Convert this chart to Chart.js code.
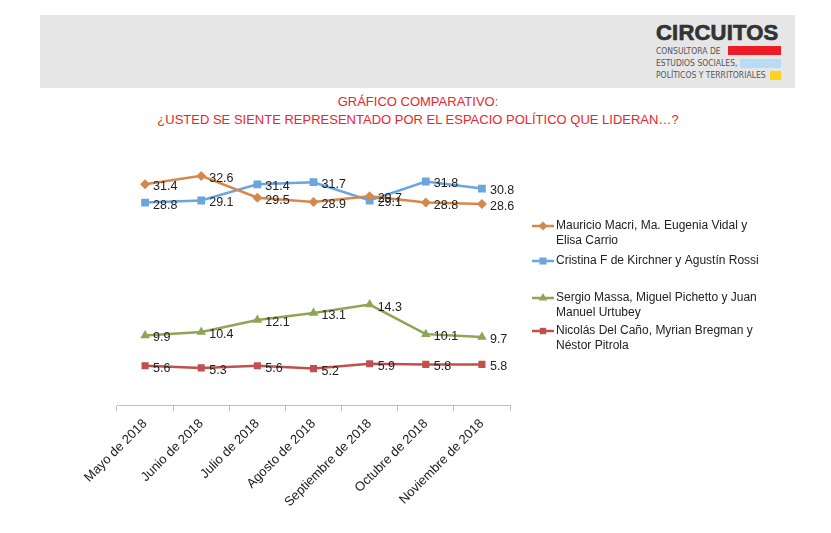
<!DOCTYPE html>
<html>
<head>
<meta charset="utf-8">
<script src="https://cdn.jsdelivr.net/npm/chart.js@4.4.1/dist/chart.umd.min.js"></script>
<style>
  body { margin: 0; background: #fff; font-family: "Liberation Sans", Arial, sans-serif; }
  #page { position: relative; width: 831px; height: 533px; overflow: hidden; }
  #band { position: absolute; left: 40px; top: 15px; width: 755px; height: 73px; background: #e6e6e6; }
  #logo { position: absolute; left: 656px; top: 20px; color: #333; font-weight: bold; font-size: 22px; letter-spacing: 0.2px; -webkit-text-stroke: 0.7px #333; }
  .sub { position: absolute; left: 656px; font-size: 8.5px; color: #555; font-family: "DejaVu Sans Condensed", "Liberation Sans Narrow", sans-serif; }
  .bar { position: absolute; }
  #title { position: absolute; left: 0; width: 836px; top: 93px; text-align: center; color: #e8262b; font-size: 13px; line-height: 18px; }
  canvas { position: absolute; left: 0; top: 0; }
</style>
</head>
<body>
<div id="page">
  <div id="band"></div>
  <div id="logo">CIRCUITOS</div>
  <div class="sub" style="top:46px">CONSULTORA DE</div>
  <div class="sub" style="top:58px">ESTUDIOS SOCIALES,</div>
  <div class="sub" style="top:70px">POLÍTICOS Y TERRITORIALES</div>
  <div class="bar" style="left:728px;top:46px;width:53px;height:9px;background:#ee1c24"></div>
  <div class="bar" style="left:740px;top:59px;width:41px;height:9px;background:#b9dcf5"></div>
  <div class="bar" style="left:770px;top:71px;width:11px;height:9px;background:#ffd21a"></div>
  <div id="title">GRÁFICO COMPARATIVO:<br>¿USTED SE SIENTE REPRESENTADO POR EL ESPACIO POLÍTICO QUE LIDERAN…?</div>
  <canvas id="myChart" width="831" height="533"></canvas>
</div>
<script>
const months = ['Mayo de 2018', 'Junio de 2018', 'Julio de 2018', 'Agosto de 2018',
  'Septiembre de 2018', 'Octubre de 2018', 'Noviembre de 2018'];

const seriesNames = [
  'Mauricio Macri, Ma. Eugenia Vidal y\nElisa Carrio',
  'Cristina F de Kirchner y Agustín Rossi',
  'Sergio Massa, Miguel Pichetto y Juan\nManuel Urtubey',
  'Nicolás Del Caño, Myrian Bregman y\nNéstor Pitrola'
];

const macri = [31.4, 32.6, 29.5, 28.9, 29.7, 28.8, 28.6];
const cristina = [28.8, 29.1, 31.4, 31.7, 29.1, 31.8, 30.8];
const massa = [9.9, 10.4, 12.1, 13.1, 14.3, 10.1, 9.7];
const delCano = [5.6, 5.3, 5.6, 5.2, 5.9, 5.8, 5.8];

const colors = ['#d6884a', '#6aa5de', '#8ea555', '#c0504d'];
const shapes = ['rectRot', 'rect', 'triangle', 'rect'];
const radii = [5, 5.5, 5.5, 5];

// data labels to the right of each point
const pointLabels = {
  id: 'pointLabels',
  afterDatasetsDraw(chart) {
    const ctx = chart.ctx;
    ctx.save();
    ctx.font = '12.5px "Liberation Sans", Arial, sans-serif';
    ctx.fillStyle = '#222';
    ctx.textAlign = 'left';
    ctx.textBaseline = 'middle';
    chart.data.datasets.forEach((ds, i) => {
      chart.getDatasetMeta(i).data.forEach((pt, j) => {
        ctx.fillText(ds.data[j].toFixed(1), pt.x + 8, pt.y + 2.5);
      });
    });
    ctx.restore();
  }
};

// legend on the right, wrapped like the original
const sideLegend = {
  id: 'sideLegend',
  afterDraw(chart) {
    const ctx = chart.ctx;
    const rows = [226, 261, 298, 331];
    ctx.save();
    ctx.font = '12px "Liberation Sans", Arial, sans-serif';
    ctx.textBaseline = 'middle';
    ctx.textAlign = 'left';
    chart.data.datasets.forEach((ds, i) => {
      const y = rows[i];
      ctx.strokeStyle = ds.borderColor;
      ctx.lineWidth = 2.5;
      ctx.beginPath();
      ctx.moveTo(532, y);
      ctx.lineTo(554, y);
      ctx.stroke();
      ctx.fillStyle = ds.borderColor;
      Chart.helpers.drawPoint(ctx, { pointStyle: ds.pointStyle, radius: ds.pointRadius - 0.5, borderWidth: 0 }, 543, y);
      ctx.fillStyle = '#222';
      ds.label.split('\n').forEach((line, k) => {
        ctx.fillText(line, 556, y + k * 15);
      });
    });
    ctx.restore();
  }
};

const ctx = document.getElementById('myChart').getContext('2d');

new Chart(ctx, {
  type: 'line',
  data: {
    labels: months,
    datasets: [macri, cristina, massa, delCano].map((vals, i) => ({
      label: seriesNames[i],
      data: vals,
      borderColor: colors[i],
      backgroundColor: colors[i],
      borderWidth: 2.5,
      pointStyle: shapes[i],
      pointRadius: radii[i],
      pointBorderWidth: 0,
      tension: 0
    }))
  },
  options: {
    responsive: false,
    animation: false,
    layout: { padding: { left: 117, right: 321, top: 159, bottom: 18 } },
    plugins: {
      legend: { display: false },
      tooltip: { enabled: false }
    },
    scales: {
      x: {
        offset: true,
        border: { color: '#bdbdbd', width: 1 },
        grid: { offset: true, drawOnChartArea: false, drawTicks: true, tickLength: 6, color: '#bdbdbd' },
        ticks: {
          autoSkip: false,
          minRotation: 45,
          maxRotation: 45,
          color: '#222',
          padding: 5,
          font: { family: '"Liberation Sans", Arial, sans-serif', size: 13 }
        }
      },
      y: {
        display: false,
        min: 0,
        max: 35
      }
    }
  },
  plugins: [pointLabels, sideLegend]
});
</script>
</body>
</html>
